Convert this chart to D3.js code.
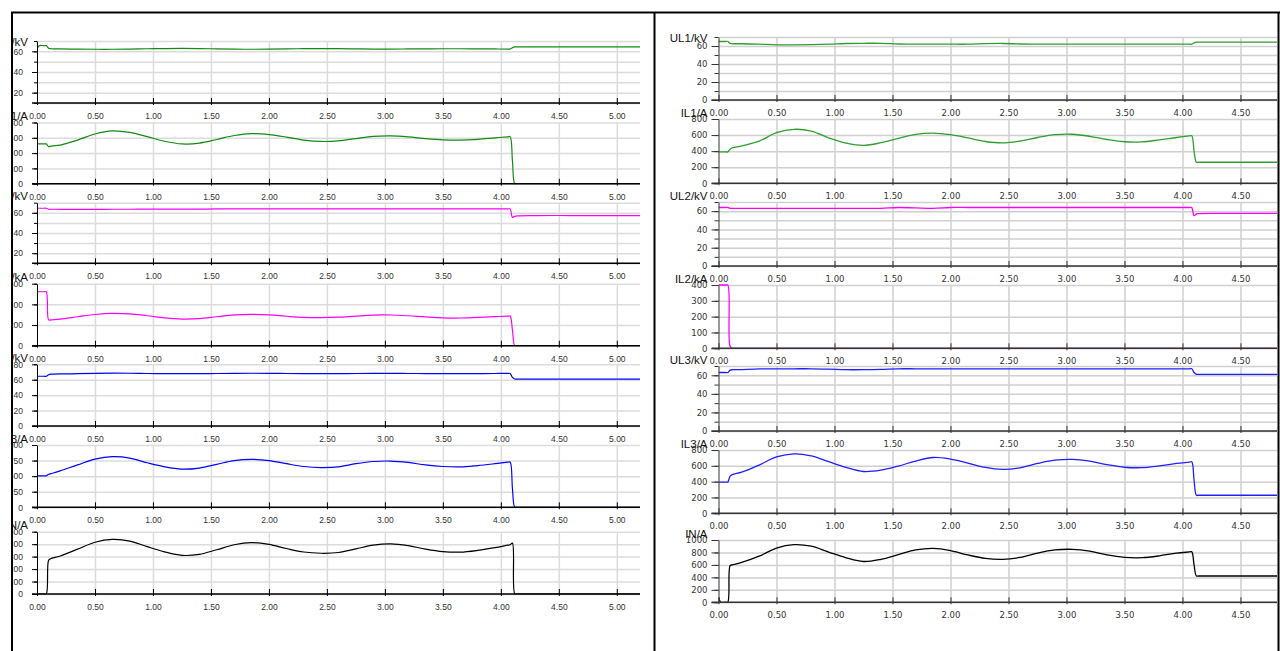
<!DOCTYPE html>
<meta charset="utf-8">
<script src="https://d3js.org/d3.v7.min.js"></script>
<style>
  body { margin: 0; background: #fff; }
</style>
<div id="chart"></div>
<script>
// time base in seconds, shared by every trace
const time = [0, 0.02, 0.06, 0.08, 0.1, 0.12, 0.14,
  0.2, 0.35, 0.5, 0.65, 0.8, 0.95,
  1.1, 1.25, 1.4, 1.55, 1.7, 1.85,
  2.0, 2.15, 2.3, 2.45, 2.6, 2.75,
  2.9, 3.05, 3.2, 3.35, 3.5, 3.65,
  3.8, 3.95, 4.06, 4.08, 4.1, 4.12, 4.14,
  4.3, 4.6, 4.9, 5.2];

const titles = ["UL1/kV", "IL1/A", "UL2/kV", "IL2/kA", "UL3/kV", "IL3/A", "IN/A"];
const xTicks = [0, 0.5, 1, 1.5, 2, 2.5, 3, 3.5, 4, 4.5, 5];

// left recording
const leftUL1 = [62, 65.5, 65.5, 65.5, 63, 62.5, 62.4,
  62.3, 62.1, 62, 62, 62.2, 62.5,
  62.7, 62.8, 62.7, 62.4, 62.1, 62,
  62.1, 62.3, 62.6, 62.7, 62.6, 62.4,
  62.2, 62.2, 62.3, 62.4, 62.5, 62.5,
  62.4, 62.3, 62.2, 62.2, 63.5, 64.3, 64.3,
  64.3, 64.3, 64.3, 64.3];
const leftIL1 = [520, 520, 520, 520, 485, 490, 495,
  505, 570, 650, 690, 670, 615,
  555, 520, 530, 578, 630, 655,
  642, 610, 570, 552, 560, 590,
  618, 624, 612, 590, 574, 570,
  580, 600, 613, 615, 300, 0, 0,
  0, 0, 0, 0];
const leftUL2 = [64.5, 64.5, 64.5, 64.5, 63.5, 63.5, 63.5,
  63.4, 63.4, 63.4, 63.5, 63.5, 63.6,
  63.6, 63.6, 63.7, 63.8, 63.8, 63.8,
  63.8, 63.8, 63.8, 63.8, 63.8, 63.9,
  63.9, 63.9, 63.9, 63.9, 63.9, 63.9,
  63.9, 63.9, 63.9, 63.9, 55.5, 56.5, 57,
  57.3, 57.3, 57.3, 57.3];
const leftIL2 = [522, 522, 522, 522, 250, 249, 251,
  258, 280, 302, 313, 308, 290,
  270, 258, 262, 280, 298, 304,
  298, 285, 274, 271, 276, 287,
  296, 297, 290, 279, 270, 268,
  274, 281, 286, 287, 150, 0, 0,
  0, 0, 0, 0];
const leftUL3 = [64.5, 64.5, 64.5, 64.5, 66.5, 67.2, 67.3,
  67.5, 67.8, 68.3, 68.5, 68.4, 68.1,
  67.9, 67.8, 67.9, 68.1, 68.3, 68.4,
  68.3, 68.1, 67.9, 67.8, 67.9, 68.1,
  68.2, 68.2, 68.1, 68, 67.9, 67.9,
  68, 68.1, 68.2, 68.2, 63, 61, 60.8,
  60.8, 60.8, 60.8, 60.8];
const leftIL3 = [505, 505, 505, 505, 530, 540, 550,
  585, 680, 772, 812, 790, 715,
  650, 612, 630, 690, 750, 770,
  750, 700, 655, 638, 650, 700,
  735, 742, 720, 680, 655, 648,
  670, 700, 724, 727, 300, 0, 0,
  0, 0, 0, 0];
const leftIN = [0, 0, 0, 0, 270, 285, 290,
  305, 360, 415, 438, 425, 380,
  338, 310, 318, 355, 395, 412,
  398, 365, 337, 327, 333, 362,
  392, 402, 388, 360, 340, 336,
  350, 372, 392, 395, 408, 0, 0,
  0, 0, 0, 0];

// right recording
const rightUL1 = [65, 65, 65, 65, 63, 62.5, 62.5,
  62.5, 62, 61.3, 61.3, 61.5, 62,
  62.8, 63, 63, 62.2, 62, 62,
  62, 62, 62.6, 62.8, 62.2, 62,
  62, 62, 62, 62, 62, 62,
  62, 62, 62, 62, 63.5, 64.3, 64.3,
  64.3, 64.3, 64.3, 64.3];
const rightIL1 = [390, 390, 390, 392, 425, 440, 448,
  465, 525, 630, 672, 650, 565,
  500, 472, 505, 560, 610, 625,
  605, 565, 520, 502, 525, 570,
  605, 610, 585, 545, 517, 515,
  540, 570, 589, 592, 400, 262, 262,
  262, 262, 262, 262];
const rightUL2 = [64, 64, 64, 64, 63, 63, 63,
  63, 63, 63, 63, 63, 63,
  63, 63, 63, 64, 63.5, 63,
  64, 64, 64, 64, 64, 64,
  64, 64, 64, 64, 64, 64,
  64, 64, 64, 64, 55, 57, 57.3,
  57.5, 57.5, 57.5, 57.5];
const rightIL2 = [400, 400, 400, 400, 12, 0, 0,
  0, 0, 0, 0, 0, 0,
  0, 0, 0, 0, 0, 0,
  0, 0, 0, 0, 0, 0,
  0, 0, 0, 0, 0, 0,
  0, 0, 0, 0, 0, 0, 0,
  0, 0, 0, 0];
const rightUL3 = [63, 63, 63, 63, 65.5, 66, 66,
  66.2, 66.8, 67, 67, 67, 66.6,
  66, 66, 66.3, 67, 67, 67,
  67, 67, 67, 67, 67, 67,
  67, 67, 67, 67, 67, 67,
  67, 67, 67, 67, 63, 61, 61,
  61, 61, 61, 61];
const rightIL3 = [395, 395, 395, 395, 470, 490, 498,
  520, 610, 712, 752, 725, 652,
  580, 528, 545, 597, 660, 705,
  685, 635, 580, 556, 575, 630,
  672, 682, 660, 615, 582, 577,
  600, 630, 648, 652, 420, 228, 228,
  228, 228, 228, 228];
const rightIN = [80, 0, 0, 0, 590, 600, 610,
  640, 740, 870, 925, 900, 805,
  715, 655, 690, 765, 840, 865,
  830, 760, 705, 690, 720, 790,
  840, 850, 820, 760, 722, 716,
  745, 790, 808, 812, 600, 422, 422,
  422, 422, 422, 422];

// y axes: domains, labelled ticks, grid lines
const leftDomains = [[10, 70], [0, 800], [10, 70], [0, 600], [0, 80], [0, 1000], [0, 500]];
const leftYTicks = [[20, 40, 60], [0, 200, 400, 600, 800], [20, 40, 60], [0, 200, 400, 600],
  [0, 20, 40, 60, 80], [0, 250, 500, 750, 1000], [0, 100, 200, 300, 400, 500]];
const leftYGrid = [[10, 20, 30, 40, 50, 60, 70], [0, 200, 400, 600, 800], [10, 20, 30, 40, 50, 60, 70], [0, 200, 400, 600],
  [0, 20, 40, 60, 80], [0, 250, 500, 750, 1000], [0, 100, 200, 300, 400, 500]];

const rightDomains = [[0, 70], [0, 800], [0, 70], [0, 400], [0, 70], [0, 800], [0, 1000]];
const rightYTicks = [[0, 20, 40, 60], [0, 200, 400, 600, 800], [0, 20, 40, 60], [0, 100, 200, 300, 400],
  [0, 20, 40, 60], [0, 200, 400, 600, 800], [0, 200, 400, 600, 800, 1000]];
const rightYGrid = [[0, 10, 20, 30, 40, 50, 60, 70], [0, 200, 400, 600, 800], [0, 10, 20, 30, 40, 50, 60, 70], [0, 100, 200, 300, 400],
  [0, 10, 20, 30, 40, 50, 60, 70], [0, 200, 400, 600, 800], [0, 200, 400, 600, 800, 1000]];

// ---- drawing ----
const svg = d3.select("#chart").append("svg")
  .attr("width", 1280)
  .attr("height", 651)
  .style("font-family", "'Liberation Sans', Arial, sans-serif");
const defs = svg.append("defs");

const panels = [
  {
    id: "left", clip: [13, 13, 640.5, 640], axisX: 37, endX: 640, xMax: 5.2,
    tops: [41, 122.5, 202.7, 283.7, 364.3, 445, 531.7],
    bottoms: [103, 183.7, 263.3, 345.7, 426, 507.3, 594],
    series: [leftUL1, leftIL1, leftUL2, leftIL2, leftUL3, leftIL3, leftIN],
    domains: leftDomains, yTicks: leftYTicks, yGrid: leftYGrid,
    colors: ["#128a12", "#128a12", "#ff00ff", "#ff00ff", "#0000ff", "#0000ff", "#000"],
    tickFont: "'Liberation Sans', Arial, sans-serif", tickSize: 8.5, titleEnd: 28,
    major: 5, minor: 3, yPad: 9, axisColor: "#000", gridColor: "#dcdcdc", lineW: 1.2
  },
  {
    id: "right", clip: [655.5, 13, 621.5, 640], axisX: 718.5, endX: 1277, xMax: 4.815,
    tops: [37, 119, 202, 285, 366, 450, 540],
    bottoms: [100, 183.3, 266, 348.3, 431, 513.3, 602.3],
    series: [rightUL1, rightIL1, rightUL2, rightIL2, rightUL3, rightIL3, rightIN],
    domains: rightDomains, yTicks: rightYTicks, yGrid: rightYGrid,
    colors: ["#2e9e2e", "#2e9e2e", "#ff00ff", "#ff00ff", "#1f1fff", "#1f1fff", "#000"],
    tickFont: "'DejaVu Sans', Verdana, sans-serif", tickSize: 8.5, titleEnd: 707.5,
    major: 7, minor: 4, yPad: 4, axisColor: "#333", gridColor: "#d0d0d0", lineW: 1.3
  }
];

panels.forEach(p => {
  defs.append("clipPath").attr("id", "clip-" + p.id)
    .append("rect")
    .attr("x", p.clip[0]).attr("y", p.clip[1])
    .attr("width", p.clip[2]).attr("height", p.clip[3]);

  const g = svg.append("g").attr("clip-path", `url(#clip-${p.id})`);
  const x = d3.scaleLinear().domain([0, p.xMax]).range([p.axisX, p.endX]);
  const plotW = p.endX - p.axisX;

  p.series.forEach((vals, i) => {
    const top = p.tops[i], bottom = p.bottoms[i];
    const y = d3.scaleLinear().domain(p.domains[i]).range([bottom, top]);
    const sub = g.append("g");

    // horizontal grid
    sub.append("g")
      .attr("transform", `translate(${p.axisX},0)`)
      .call(d3.axisLeft(y).tickValues(p.yGrid[i]).tickSize(-plotW).tickFormat(""))
      .call(a => a.select(".domain").remove())
      .call(a => a.selectAll("line").attr("stroke", p.gridColor).attr("stroke-width", 1.5));

    // vertical grid
    sub.append("g")
      .attr("transform", `translate(0,${bottom})`)
      .call(d3.axisBottom(x).tickValues(xTicks.slice(1)).tickSize(-(bottom - top)).tickFormat(""))
      .call(a => a.select(".domain").remove())
      .call(a => a.selectAll("line").attr("stroke", p.gridColor).attr("stroke-width", 1.5));

    // trace
    const clipId = `plot-${p.id}-${i}`;
    defs.append("clipPath").attr("id", clipId)
      .append("rect")
      .attr("x", p.axisX).attr("y", top - 2)
      .attr("width", plotW).attr("height", bottom - top + 2.5);
    const line = d3.line()
      .x((d, k) => x(time[k]))
      .y(d => y(d))
      .curve(d3.curveCatmullRom.alpha(0.5));
    sub.append("path")
      .datum(vals)
      .attr("clip-path", `url(#${clipId})`)
      .attr("fill", "none")
      .attr("stroke", p.colors[i])
      .attr("stroke-width", p.lineW)
      .attr("d", line);

    // minor y ticks
    sub.append("g")
      .attr("transform", `translate(${p.axisX},0)`)
      .call(d3.axisLeft(y).tickValues(p.yGrid[i]).tickSize(p.minor).tickFormat(""))
      .call(a => a.select(".domain").remove())
      .call(a => a.selectAll("line").attr("stroke", p.axisColor));

    // y axis with labels
    sub.append("g")
      .attr("transform", `translate(${p.axisX},0)`)
      .call(d3.axisLeft(y).tickValues(p.yTicks[i]).tickSize(p.major).tickSizeOuter(0).tickPadding(p.yPad).tickFormat(d3.format("d")))
      .call(a => a.select(".domain").attr("stroke", p.axisColor))
      .call(a => a.selectAll("line").attr("stroke", p.axisColor))
      .call(a => a.selectAll("text")
        .attr("fill", "#333")
        .style("font-family", p.tickFont)
        .style("font-size", p.tickSize + "px"));

    // x axis
    sub.append("line")
      .attr("x1", x(0) - p.major).attr("x2", p.endX)
      .attr("y1", bottom).attr("y2", bottom)
      .attr("stroke", p.axisColor).attr("stroke-width", 1.5);
    sub.append("g")
      .attr("transform", `translate(0,${bottom})`)
      .call(d3.axisBottom(x).tickValues(xTicks).tickSizeInner(-5).tickSizeOuter(0).tickPadding(10).tickFormat(d3.format(".2f")))
      .call(a => a.select(".domain").remove())
      .call(a => a.selectAll("line").attr("stroke", p.axisColor).attr("y2", -5).attr("y1", 2))
      .call(a => a.selectAll("text")
        .attr("fill", "#333")
        .style("font-family", p.tickFont)
        .style("font-size", p.tickSize + "px"));

    // title
    sub.append("text")
      .attr("x", p.titleEnd)
      .attr("y", i === 0 ? top + 5 : top - 2.5)
      .attr("text-anchor", "end")
      .attr("fill", "#111")
      .style("font-size", "11.5px")
      .text(titles[i]);
  });
});

// frame
const frame = svg.append("g").attr("stroke", "#000").attr("stroke-width", 2);
frame.append("line").attr("x1", 11).attr("x2", 1280).attr("y1", 12.5).attr("y2", 12.5);
frame.append("line").attr("x1", 12).attr("x2", 12).attr("y1", 12).attr("y2", 651);
frame.append("line").attr("x1", 654.5).attr("x2", 654.5).attr("y1", 12).attr("y2", 651);
frame.append("line").attr("x1", 1278.5).attr("x2", 1278.5).attr("y1", 12).attr("y2", 651);
</script>
